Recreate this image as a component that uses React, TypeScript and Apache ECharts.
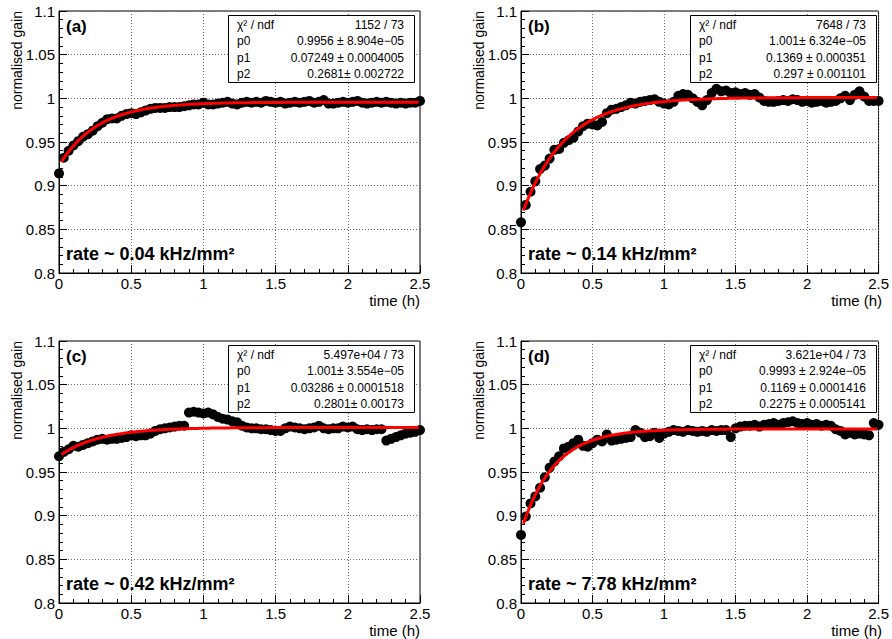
import React, { useEffect, useRef } from "react";
import * as echarts from "echarts";

// sampling: one point every 2 minutes, 0 .. 2.5 h
const SAMPLE_STEP_H = 2 / 60;

const gainA = [
  0.914, 0.932, 0.940, 0.946, 0.951, 0.956, 0.959, 0.963, 0.968, 0.972,
  0.976, 0.977, 0.977, 0.980, 0.982, 0.983, 0.982, 0.984, 0.986, 0.988,
  0.989, 0.989, 0.989, 0.990, 0.990, 0.990, 0.991, 0.992, 0.993, 0.993,
  0.995, 0.993, 0.993, 0.994, 0.995, 0.996, 0.994, 0.993, 0.995, 0.996,
  0.995, 0.996, 0.995, 0.997, 0.996, 0.995, 0.996, 0.994, 0.995, 0.996,
  0.995, 0.996, 0.997, 0.995, 0.996, 0.998, 0.994, 0.994, 0.995, 0.996,
  0.995, 0.996, 0.997, 0.995, 0.994, 0.995, 0.996, 0.995, 0.996, 0.995,
  0.994, 0.995, 0.994, 0.995, 0.995, 0.997,
];

const gainB = [
  0.858, 0.878, 0.893, 0.905, 0.919, 0.923, 0.931, 0.941, 0.942, 0.949,
  0.952, 0.955, 0.962, 0.968, 0.971, 0.970, 0.969, 0.973, 0.983, 0.987,
  0.988, 0.990, 0.992, 0.995, 0.994, 0.996, 0.997, 0.998, 0.999, 0.996,
  0.994, 0.993, 0.996, 1.003, 1.005, 1.004, 1.000, 0.996, 0.992, 0.998,
  1.006, 1.011, 1.008, 1.009, 1.006, 1.007, 1.005, 1.006, 1.004, 1.005,
  1.001, 0.997, 0.996, 0.996, 0.997, 0.998, 0.997, 0.999, 0.998, 0.996,
  0.997, 0.995, 0.996, 0.997, 0.995, 0.996, 0.997, 1.000, 1.003, 0.998,
  1.004, 1.008, 1.002, 0.997, 0.997, 0.997,
];

const gainC = [
  0.968, 0.973, 0.976, 0.980, 0.979, 0.981, 0.983, 0.985, 0.987, 0.988,
  0.987, 0.988, 0.988, 0.989, 0.990, 0.992, 0.991, 0.992, 0.992, 0.994,
  0.997, 0.999, 1.000, 1.001, 1.002, 1.003, 1.003, 1.018, 1.019, 1.018,
  1.017, 1.018, 1.016, 1.013, 1.011, 1.010, 1.008, 1.007, 1.003, 1.001,
  1.000, 1.000, 0.999, 0.999, 0.998, 0.997, 0.997, 1.000, 1.002, 1.001,
  1.000, 0.999, 1.000, 1.001, 1.003, 1.000, 0.999, 1.000, 1.000, 1.002,
  1.001, 1.002, 0.999, 0.998, 0.999, 0.998, 0.999, 0.999, 0.986, 0.988,
  0.990, 0.992, 0.994, 0.995, 0.996, 0.998,
];

const gainD = [
  0.878, 0.899, 0.914, 0.922, 0.932, 0.944, 0.955, 0.962, 0.968, 0.977,
  0.979, 0.983, 0.987, 0.980, 0.979, 0.983, 0.987, 0.985, 0.993, 0.986,
  0.987, 0.988, 0.989, 0.990, 0.998, 0.995, 0.990, 0.991, 0.995, 0.989,
  0.994, 0.996, 0.998, 0.997, 0.996, 0.998, 0.997, 0.996, 0.997, 0.996,
  0.998, 0.997, 0.998, 0.998, 0.990, 1.000, 1.002, 1.003, 1.003, 1.004,
  1.002, 1.004, 1.005, 1.006, 1.004, 1.006, 1.007, 1.008, 1.006, 1.005,
  1.006, 1.004, 1.005, 1.003, 1.004, 1.003, 0.999, 0.997, 0.993, 0.995,
  0.993, 0.994, 0.993, 0.992, 1.006, 1.004,
];

const gains = [gainA, gainB, gainC, gainD];

// fit parameters f(t) = p0 - p1 * exp(-t / p2)
const fitP0 = [0.9956, 1.001, 1.001, 0.9993];
const fitP1 = [0.07249, 0.1369, 0.03286, 0.1169];
const fitP2 = [0.2681, 0.297, 0.2801, 0.2275];
const FIT_START = 0.0167;
const FIT_END = 2.49;

const panelLabels = ["(a)", "(b)", "(c)", "(d)"];
const rateLabels = [
  "rate ~ 0.04 kHz/mm²",
  "rate ~ 0.14 kHz/mm²",
  "rate ~ 0.42 kHz/mm²",
  "rate ~ 7.78 kHz/mm²",
];
const chi2Texts = ["1152 / 73", "7648 / 73", "5.497e+04 / 73", "3.621e+04 / 73"];
const p0Texts = ["0.9956 ± 8.904e−05", "1.001± 6.324e−05", "1.001± 3.554e−05", "0.9993 ± 2.924e−05"];
const p1Texts = ["0.07249 ± 0.0004005", "0.1369 ± 0.000351", "0.03286 ± 0.0001518", "0.1169 ± 0.0001416"];
const p2Texts = ["0.2681± 0.002722", "0.297 ± 0.001101", "0.2801± 0.00173", "0.2275 ± 0.0005141"];
const statNames = ["χ² / ndf", "p0", "p1", "p2"];

const Y_MIN = 0.8;
const Y_MAX = 1.1;
const Y_STEP = 0.05;
const X_MIN = 0;
const X_MAX = 2.5;
const X_STEP = 0.5;

const FONT = "'Liberation Sans', Arial, Helvetica, sans-serif";

const PANELS = [
  { left: 59, top: 11 },
  { left: 521, top: 11 },
  { left: 59, top: 341 },
  { left: 521, top: 341 },
];
const W = 361;
const H = 262;

function fitCurve(i: number): number[][] {
  const pts: number[][] = [];
  const n = 240;
  for (let k = 0; k <= n; k++) {
    const t = FIT_START + ((FIT_END - FIT_START) * k) / n;
    pts.push([t, fitP0[i] - fitP1[i] * Math.exp(-t / fitP2[i])]);
  }
  return pts;
}

export default function App() {
  const ref = useRef<HTMLDivElement>(null);

  useEffect(() => {
    if (!ref.current) return;
    const chart = echarts.init(ref.current, undefined, { renderer: "svg" });

    const grid = PANELS.map((p) => ({
      left: p.left,
      top: p.top,
      width: W,
      height: H,
      show: true,
      borderColor: "#000",
      borderWidth: 1,
      backgroundColor: "transparent",
      containLabel: false,
    }));

    const axisCommon = {
      axisLine: { show: true, onZero: false, lineStyle: { color: "#000", width: 1 } },
      axisTick: { show: true, inside: true, length: 8, lineStyle: { color: "#000", width: 1 } },
      minorTick: { show: true, splitNumber: 5, length: 4, lineStyle: { color: "#000", width: 1 } },
      splitLine: { show: true, lineStyle: { color: "#6a6a6a", width: 1, type: [1, 2] } },
    };

    const xAxis = PANELS.map((_, i) => ({
      type: "value",
      gridIndex: i,
      min: X_MIN,
      max: X_MAX,
      interval: X_STEP,
      ...axisCommon,
      axisLabel: { color: "#000", fontSize: 15, fontFamily: FONT, margin: 3 },
    }));
    const yAxis = PANELS.map((_, i) => ({
      type: "value",
      gridIndex: i,
      min: Y_MIN,
      max: Y_MAX,
      interval: Y_STEP,
      ...axisCommon,
      axisLabel: { color: "#000", fontSize: 15, fontFamily: FONT, margin: 4 },
    }));

    const series: any[] = [];
    gains.forEach((g, i) => {
      series.push({
        type: "scatter",
        xAxisIndex: i,
        yAxisIndex: i,
        symbol: "circle",
        symbolSize: 10,
        itemStyle: { color: "#000", opacity: 1 },
        data: g.map((v, k) => [k * SAMPLE_STEP_H, v]),
        z: 3,
      });
      series.push({
        type: "line",
        xAxisIndex: i,
        yAxisIndex: i,
        showSymbol: false,
        symbol: "none",
        lineStyle: { color: "#ff0000", width: 3, opacity: 1 },
        data: fitCurve(i),
        z: 4,
      });
    });

    const graphics: any[] = [];
    PANELS.forEach((p, i) => {
      // y-axis title
      graphics.push({
        type: "text",
        x: p.left - 42,
        y: p.top,
        rotation: Math.PI / 2,
        style: {
          text: "normalised gain",
          fontSize: 14,
          fontFamily: FONT,
          fill: "#000",
          align: "right",
          verticalAlign: "middle",
        },
      });
      // x-axis title
      graphics.push({
        type: "text",
        x: p.left + W,
        y: p.top + 289,
        style: {
          text: "time (h)",
          fontSize: 15,
          fontFamily: FONT,
          fill: "#000",
          align: "right",
          verticalAlign: "middle",
        },
      });
      // panel label
      graphics.push({
        type: "text",
        x: p.left + 7,
        y: p.top + 15,
        z: 10,
        style: {
          text: panelLabels[i],
          fontSize: 17,
          fontWeight: "bold",
          fontFamily: FONT,
          fill: "#000",
          align: "left",
          verticalAlign: "middle",
        },
      });
      // rate label
      graphics.push({
        type: "text",
        x: p.left + 7,
        y: p.top + 243,
        z: 10,
        style: {
          text: rateLabels[i],
          fontSize: 18,
          fontWeight: "bold",
          fontFamily: FONT,
          fill: "#000",
          align: "left",
          verticalAlign: "middle",
        },
      });
      // stats box
      const bx = p.left + 169;
      const by = p.top + 4;
      const bw = 186;
      const bh = 67;
      graphics.push({
        type: "rect",
        z: 20,
        shape: { x: bx + 0.5, y: by + 0.5, width: bw, height: bh },
        style: { fill: "#fff", stroke: "#000", lineWidth: 1 },
      });
      const rightTexts = [chi2Texts[i], p0Texts[i], p1Texts[i], p2Texts[i]];
      const rowY = [10, 26, 42.5, 59];
      statNames.forEach((name, r) => {
        graphics.push({
          type: "text",
          z: 21,
          x: bx + 9,
          y: by + rowY[r],
          style: {
            text: name,
            fontSize: 12,
            fontFamily: FONT,
            fill: "#000",
            align: "left",
            verticalAlign: "middle",
          },
        });
        graphics.push({
          type: "text",
          z: 21,
          x: bx + bw - 10,
          y: by + rowY[r],
          style: {
            text: rightTexts[r],
            fontSize: 12,
            fontFamily: FONT,
            fill: "#000",
            align: "right",
            verticalAlign: "middle",
          },
        });
      });
    });

    chart.setOption({
      animation: false,
      backgroundColor: "#fff",
      grid,
      xAxis,
      yAxis,
      series,
      graphic: { elements: graphics },
    });

    return () => {
      chart.dispose();
    };
  }, []);

  return (
    <div
      ref={ref}
      style={{ position: "absolute", left: 0, top: 0, width: 892, height: 639 }}
    />
  );
}
